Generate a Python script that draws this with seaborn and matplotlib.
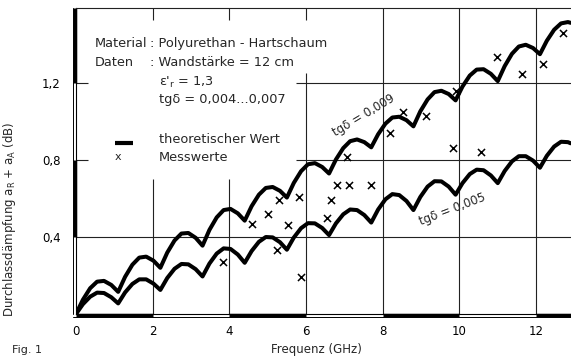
import matplotlib
matplotlib.use("Agg")
import matplotlib.pyplot as plt
import matplotlib.transforms as mtransforms
import numpy as np
import pandas as pd
import seaborn as sns

# ---------------- data ----------------
freq = [0, 0.18, 0.37, 0.55, 0.73, 0.92,
        1.1, 1.28, 1.47, 1.65, 1.83, 2.02,
        2.2, 2.38, 2.57, 2.75, 2.93, 3.12,
        3.3, 3.48, 3.67, 3.85, 4.03, 4.22,
        4.4, 4.58, 4.77, 4.95, 5.13, 5.32,
        5.5, 5.68, 5.87, 6.05, 6.23, 6.42,
        6.6, 6.78, 6.97, 7.15, 7.33, 7.52,
        7.7, 7.88, 8.07, 8.25, 8.43, 8.62,
        8.8, 8.98, 9.17, 9.35, 9.53, 9.72,
        9.9, 10.08, 10.27, 10.45, 10.63, 10.82,
        11.0, 11.18, 11.37, 11.55, 11.73, 11.92,
        12.1, 12.28, 12.47, 12.65, 12.83, 12.9]

theory_009 = [0, 0.074, 0.134, 0.168, 0.172, 0.151,
              0.115, 0.193, 0.256, 0.293, 0.298, 0.277,
              0.24, 0.319, 0.382, 0.418, 0.421, 0.396,
              0.355, 0.437, 0.502, 0.540, 0.546, 0.523,
              0.485, 0.560, 0.620, 0.655, 0.660, 0.640,
              0.605, 0.681, 0.742, 0.778, 0.784, 0.764,
              0.73, 0.803, 0.862, 0.898, 0.907, 0.893,
              0.866, 0.934, 0.989, 1.021, 1.025, 1.007,
              0.975, 1.053, 1.115, 1.153, 1.160, 1.143,
              1.11, 1.182, 1.239, 1.270, 1.272, 1.248,
              1.21, 1.288, 1.352, 1.390, 1.399, 1.382,
              1.35, 1.42, 1.477, 1.51, 1.517, 1.513]

theory_005 = [0, 0.051, 0.090, 0.111, 0.109, 0.087,
              0.055, 0.112, 0.156, 0.180, 0.180, 0.158,
              0.125, 0.187, 0.235, 0.260, 0.258, 0.233,
              0.195, 0.262, 0.314, 0.341, 0.338, 0.309,
              0.266, 0.327, 0.375, 0.400, 0.398, 0.373,
              0.334, 0.397, 0.446, 0.472, 0.471, 0.447,
              0.41, 0.471, 0.518, 0.543, 0.540, 0.514,
              0.475, 0.543, 0.596, 0.623, 0.618, 0.587,
              0.54, 0.608, 0.662, 0.690, 0.689, 0.662,
              0.62, 0.680, 0.727, 0.750, 0.747, 0.720,
              0.68, 0.743, 0.793, 0.820, 0.820, 0.797,
              0.76, 0.822, 0.870, 0.895, 0.893, 0.887]

meas_freq = [3.84, 4.60, 5.01, 5.25, 5.30, 5.53, 5.82, 5.87, 6.55, 6.66,
             6.81, 7.07, 7.13, 7.70, 8.20, 8.54, 9.14, 9.84, 9.90, 10.55,
             10.97, 11.62, 12.19, 12.69]
meas_val = [0.27, 0.47, 0.52, 0.33, 0.59, 0.465, 0.61, 0.19, 0.50, 0.59,
            0.67, 0.815, 0.67, 0.67, 0.94, 1.05, 1.03, 0.865, 1.16, 0.84,
            1.335, 1.245, 1.30, 1.46]

xticks = [0, 2, 4, 6, 8, 10, 12]
yticks = [0.4, 0.8, 1.2]
ytick_labels = ["0,4", "0,8", "1,2"]

# ---------------- style ----------------
sns.set_style("white")
plt.rcParams['font.family'] = ['DejaVu Sans']
plt.rcParams['mathtext.fontset'] = 'dejavusans'

fig = plt.figure(figsize=(5.71, 3.56), dpi=100)
ax = fig.add_axes([0.1331, 0.118, 0.8669, 0.8595])
XMAX, YMAX = 12.91, 1.59
ax.set_xlim(0, XMAX)
ax.set_ylim(0, YMAX)

gc = '#222222'
glw = 0.8
# grid (interrupted behind the text block)
ax.vlines([2, 4], 0, 0.70, color=gc, lw=glw, zorder=1)
ax.vlines([2, 4, 6], 1.528, YMAX, color=gc, lw=glw, zorder=1)
ax.vlines([6], 0, 1.25, color=gc, lw=glw, zorder=1)
ax.vlines([8, 10, 12], 0, YMAX, color=gc, lw=glw, zorder=1)
ax.hlines([0.4], 0, XMAX, color=gc, lw=glw, zorder=1)
ax.hlines([0.8, 1.2], 0, 0.3, color=gc, lw=glw, zorder=1)
ax.hlines([0.8, 1.2], 5.75, XMAX, color=gc, lw=glw, zorder=1)

df = pd.DataFrame({
    "f": freq * 2,
    "a": theory_009 + theory_005,
    "tg": ["0,009"] * len(freq) + ["0,005"] * len(freq),
})
sns.lineplot(data=df, x="f", y="a", units="tg", estimator=None, sort=False,
             color="black", lw=2.9, ax=ax, zorder=3, legend=False,
             solid_joinstyle='round', solid_capstyle='round')

dm = pd.DataFrame({"f": meas_freq, "a": meas_val})
sns.scatterplot(data=dm, x="f", y="a", marker="x", s=26, color="black",
                linewidth=1.1, ax=ax, zorder=4, legend=False)

# spines
ax.spines["right"].set_visible(False)
ax.spines["top"].set_linewidth(0.8)
ax.spines["top"].set_color(gc)
ax.spines["left"].set_linewidth(0.8)
ax.spines["bottom"].set_linewidth(0.8)
ax.spines["left"].set_color("black")
ax.spines["bottom"].set_color("black")

# scale-bar style axes (alternating filled segments)
tl = mtransforms.offset_copy(ax.transData, fig=fig, x=-1.3, y=0, units='dots')
tl2 = mtransforms.offset_copy(ax.transData, fig=fig, x=-2.7, y=0, units='dots')
ax.plot([0, 0], [0, YMAX], transform=tl2, color='black', lw=0.7, clip_on=False)
for y0, y1 in [(0.4, 0.8), (1.2, YMAX)]:
    ax.plot([0, 0], [y0, y1], transform=tl, color='black', lw=2.5,
            clip_on=False, solid_capstyle='butt')
tb = mtransforms.offset_copy(ax.transData, fig=fig, x=0, y=-1.3, units='dots')
tb2 = mtransforms.offset_copy(ax.transData, fig=fig, x=0, y=-2.7, units='dots')
ax.plot([-0.07, XMAX], [0, 0], transform=tb2, color='black', lw=0.7, clip_on=False)
for x0, x1 in [(0, 2), (4, 6), (8, 10), (12, XMAX)]:
    ax.plot([x0, x1], [0, 0], transform=tb, color='black', lw=2.5,
            clip_on=False, solid_capstyle='butt')

# ticks
ax.set_xticks(xticks)
ax.set_xticklabels([str(t) for t in xticks])
ax.set_yticks(yticks)
ax.set_yticklabels(ytick_labels)
ax.tick_params(axis='both', length=0, labelsize=8.5, colors='black')
ax.tick_params(axis='x', pad=8)
ax.tick_params(axis='y', pad=11)

ax.set_xlabel("Frequenz (GHz)", fontsize=8.5, labelpad=5)
ax.xaxis.set_label_coords(0.485, -0.095)
ax.set_ylabel(r"Durchlassdämpfung a$_\mathregular{R}$ + a$_\mathregular{A}$ (dB)",
              fontsize=8.5)
ax.yaxis.set_label_coords(-0.118, 0.31)

# text block
fs = 9.3
ax.text(0.50, 1.408, "Material", fontsize=fs, va='center')
ax.text(1.93, 1.408, ": Polyurethan - Hartschaum", fontsize=fs, va='center')
ax.text(0.50, 1.309, "Daten", fontsize=fs, va='center')
ax.text(1.93, 1.309, ": Wandstärke = 12 cm", fontsize=fs, va='center')
ax.text(2.17, 1.205, r"ε'$_\mathregular{r}$ = 1,3", fontsize=fs, va='center')
ax.text(2.17, 1.112, "tgδ = 0,004...0,007", fontsize=fs, va='center')
ax.plot([1.02, 1.49], [0.888, 0.888], color='black', lw=3, solid_capstyle='butt')
ax.text(2.17, 0.909, "theoretischer Wert", fontsize=fs, va='center')
ax.text(1.10, 0.815, "x", fontsize=8, va='center', ha='center')
ax.text(2.17, 0.815, "Messwerte", fontsize=fs, va='center')

ax.text(7.51, 1.034, "tgδ = 0,009", fontsize=8.5, rotation=31,
        ha='center', va='center', rotation_mode='anchor')
ax.text(9.81, 0.545, "tgδ = 0,005", fontsize=8.5, rotation=21,
        ha='center', va='center', rotation_mode='anchor')

fig.text(0.021, 0.004, "Fig. 1", fontsize=8, va='bottom', ha='left')

fig.savefig("out.png", dpi=100)
